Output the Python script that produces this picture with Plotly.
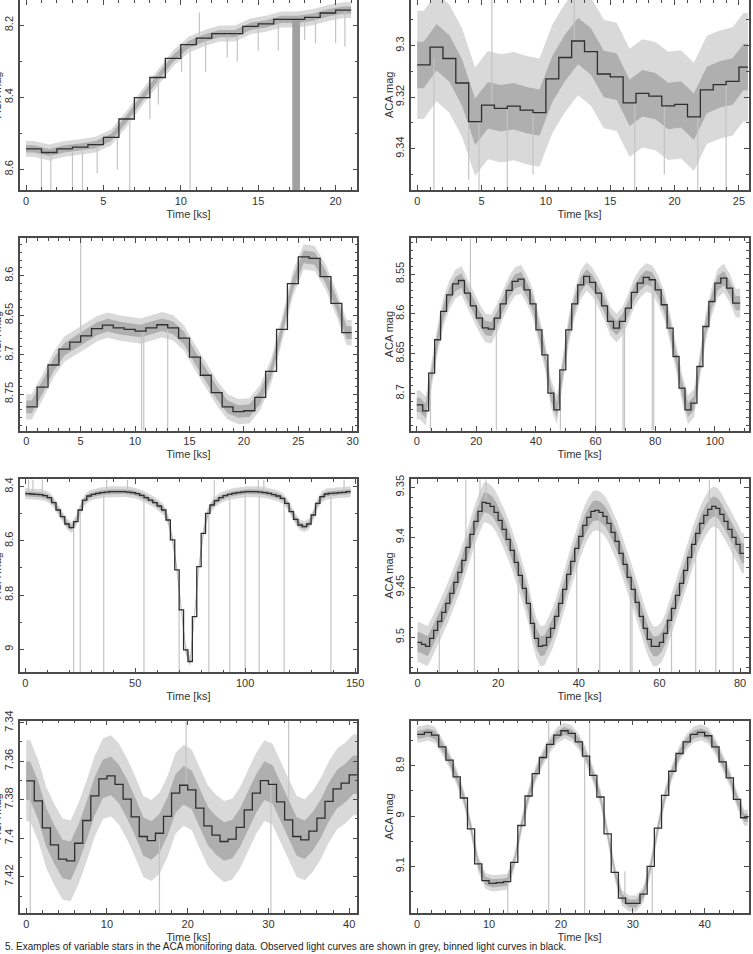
import numpy as np
import plotly.graph_objects as go

# ---------------- data ----------------
# Panel 1 (top left): 1 ks bins
p1_width = 1.0
p1_end = 21.0
p1_mag = [8.543, 8.553, 8.543, 8.538, 8.531, 8.511, 8.460, 8.401, 8.345, 8.292, 8.254,
          8.236, 8.223, 8.223, 8.203, 8.196, 8.184, 8.184, 8.178, 8.166, 8.158]
p1_spike_t = [1.0, 1.6, 3.0, 3.65, 4.6, 5.9, 6.7, 8.0, 8.55, 10.05, 10.6, 11.6, 13.0, 13.65, 15.0, 16.3, 18.0, 18.7, 20.0, 20.6, 11.2]
p1_spike_a = [8.54, 8.55, 8.54, 8.54, 8.53, 8.50, 8.47, 8.38, 8.33, 8.28, 8.25, 8.23, 8.22, 8.22, 8.20, 8.19, 8.18, 8.17, 8.16, 8.16, 8.24]
p1_spike_b = [8.66, 8.66, 8.66, 8.66, 8.61, 8.60, 8.66, 8.46, 8.42, 8.33, 8.66, 8.33, 8.29, 8.30, 8.27, 8.27, 8.24, 8.25, 8.25, 8.26, 8.165]
p1_gap = [17.2, 17.7, 8.187]  # start, end, top of the grey data-gap block

# Panel 2 (top right)
p2_width = 1.0
p2_end = 25.7
p2_mag = [9.3075, 9.3006, 9.3050, 9.3145, 9.3295, 9.3231, 9.3243, 9.3235, 9.3250, 9.3260,
          9.3129, 9.3046, 9.2982, 9.3023, 9.3110, 9.3121, 9.3222, 9.3185, 9.3196, 9.3234,
          9.3228, 9.3276, 9.3172, 9.3151, 9.3139, 9.3083]
p2_spike_t = [1.3, 4.0, 4.8, 7.0, 9.0, 16.9, 19.2, 21.8, 24.0, 5.8, 12.2]
p2_spike_a = [9.305, 9.32, 9.33, 9.325, 9.326, 9.322, 9.323, 9.328, 9.315, 9.323, 9.298]
p2_spike_b = [9.356, 9.352, 9.356, 9.356, 9.350, 9.356, 9.350, 9.356, 9.356, 9.282, 9.282]

# Panel 3 (second row left)
p3_width = 1.0
p3_end = 29.9
p3_mag = [8.766, 8.741, 8.713, 8.693, 8.684, 8.676, 8.667, 8.6625, 8.666, 8.668,
          8.670, 8.666, 8.662, 8.666, 8.679, 8.703, 8.726, 8.748, 8.766, 8.772,
          8.771, 8.754, 8.721, 8.668, 8.610, 8.576, 8.578, 8.601, 8.635, 8.672]
p3_spike_t = [5.0, 10.6, 10.8, 13.0]
p3_spike_a = [8.68, 8.67, 8.67, 8.665]
p3_spike_b = [8.552, 8.796, 8.796, 8.796]

# Panel 4 (second row right): 2 ks bins
p4_width = 2.0
p4_end = 108.5
p4_mag = [8.7143, 8.7218, 8.6744, 8.6325, 8.5969, 8.5760, 8.5622, 8.5580, 8.5739, 8.5898,
          8.6053, 8.6175, 8.6191, 8.6053, 8.5873, 8.5705, 8.5592, 8.5563, 8.5697, 8.5873,
          8.6200, 8.6514, 8.6996, 8.7205, 8.6703, 8.6200, 8.5873, 8.5634, 8.5529, 8.5605,
          8.5739, 8.5898, 8.6095, 8.6179, 8.6095, 8.5927, 8.5730, 8.5613, 8.5542, 8.5571,
          8.5697, 8.5885, 8.6179, 8.6535, 8.6933, 8.7205, 8.7122, 8.6661, 8.6158, 8.5844,
          8.5613, 8.5550, 8.5676, 8.5865]
p4_spike_t = [4.6, 18.0, 26.7, 48.2, 60.0, 69.2, 69.7, 79.0, 79.5]
p4_spike_a = [8.68, 8.59, 8.61, 8.69, 8.57, 8.61, 8.61, 8.556, 8.556]
p4_spike_b = [8.7465, 8.505, 8.7465, 8.7465, 8.7465, 8.7465, 8.7465, 8.7465, 8.7465]

# Panel 5 (third row left): 2 ks bins
p5_width = 2.0
p5_end = 148.0
p5_mag = [8.4258, 8.4270, 8.4283, 8.4295, 8.4332, 8.4406, 8.4590, 8.4860, 8.5106, 8.5376,
          8.5512, 8.5290, 8.4860, 8.4492, 8.4344, 8.4283, 8.4246, 8.4221, 8.4197, 8.4184,
          8.4184, 8.4184, 8.4184, 8.4197, 8.4221, 8.4258, 8.4320, 8.4406, 8.4492, 8.4590,
          8.4713, 8.4860, 8.5229, 8.5966, 8.7073, 8.8547, 9.0022, 9.0452, 8.8793, 8.6950,
          8.5721, 8.4983, 8.4676, 8.4516, 8.4406, 8.4332, 8.4283, 8.4246, 8.4221, 8.4197,
          8.4184, 8.4184, 8.4184, 8.4197, 8.4221, 8.4246, 8.4295, 8.4344, 8.4430, 8.4615,
          8.4922, 8.5204, 8.5413, 8.5475, 8.5376, 8.5045, 8.4615, 8.4369, 8.4270, 8.4246,
          8.4234, 8.4221, 8.4209, 8.4184]
p5_spike_t = [22.0, 25.0, 35.7, 54.0, 70.0, 83.5, 93.0, 100.0, 106.4, 117.7, 139.0,
              1.5, 3.5, 7.8, 37.0, 46.5, 86.0, 106.0, 108.5, 145.0]
p5_spike_a = [8.53, 8.47, 8.42, 8.44, 8.85, 8.48, 8.43, 8.42, 8.42, 8.45, 8.42,
              8.425, 8.427, 8.43, 8.42, 8.418, 8.45, 8.42, 8.42, 8.42]
p5_spike_b = [9.085, 9.085, 9.085, 9.085, 9.085, 9.085, 9.085, 9.085, 9.085, 9.085, 9.085,
              8.373, 8.373, 8.373, 8.373, 8.373, 8.373, 8.373, 8.373, 8.373]

# Panel 6 (third row right): 1 ks bins
p6_width = 1.0
p6_end = 81.0
p6_mag = [9.505, 9.507, 9.509, 9.501, 9.493, 9.484, 9.475, 9.466, 9.456, 9.445,
          9.435, 9.423, 9.410, 9.397, 9.384, 9.374, 9.365, 9.366, 9.369, 9.375,
          9.383, 9.392, 9.402, 9.413, 9.425, 9.438, 9.451, 9.466, 9.486, 9.501,
          9.509, 9.508, 9.500, 9.491, 9.479, 9.466, 9.452, 9.437, 9.424, 9.411,
          9.399, 9.388, 9.380, 9.374, 9.373, 9.375, 9.379, 9.386, 9.395, 9.404,
          9.416, 9.427, 9.440, 9.452, 9.465, 9.479, 9.491, 9.502, 9.509, 9.509,
          9.505, 9.496, 9.483, 9.471, 9.458, 9.446, 9.433, 9.420, 9.407, 9.396,
          9.386, 9.378, 9.372, 9.369, 9.371, 9.377, 9.384, 9.392, 9.400, 9.407, 9.416]
p6_spike_t = [5.4, 14.1, 17.0, 25.0, 39.5, 45.2, 52.8, 53.2, 63.0, 69.0, 72.4, 74.0, 78.3, 12.0, 15.5]
p6_spike_a = [9.49, 9.38, 9.366, 9.43, 9.41, 9.375, 9.445, 9.445, 9.47, 9.40, 9.37, 9.37, 9.40, 9.41, 9.375]
p6_spike_b = [9.535, 9.535, 9.342, 9.535, 9.535, 9.535, 9.535, 9.535, 9.535, 9.535, 9.342, 9.535, 9.535, 9.342, 9.342]

# Panel 7 (bottom left): 1 ks bins
p7_width = 1.0
p7_end = 41.0
p7_mag = [7.3702, 7.3806, 7.3946, 7.4034, 7.4108, 7.4117, 7.4026, 7.3908, 7.3780, 7.3692,
          7.3676, 7.3720, 7.3797, 7.3889, 7.3991, 7.4012, 7.3974, 7.3887, 7.3766, 7.3725,
          7.3749, 7.3844, 7.3936, 7.3984, 7.4017, 7.4005, 7.3944, 7.3853, 7.3766, 7.3701,
          7.3720, 7.3811, 7.3905, 7.3991, 7.4008, 7.3963, 7.3896, 7.3809, 7.3744, 7.3714, 7.3671]
p7_spike_t = [0.5, 16.5, 19.8, 30.3, 32.5]
p7_spike_a = [7.37, 7.40, 7.373, 7.37, 7.38]
p7_spike_b = [7.4388, 7.4388, 7.339, 7.4388, 7.339]

# Panel 8 (bottom right): 1 ks bins
p8_width = 1.0
p8_end = 46.0
p8_mag = [8.8373, 8.8333, 8.8387, 8.8620, 8.8887, 8.9220, 8.9640, 9.0253, 9.0953, 9.1287,
          9.1340, 9.1327, 9.1307, 9.0920, 9.0187, 8.9600, 8.9153, 8.8833, 8.8573, 8.8387,
          8.8300, 8.8353, 8.8520, 8.8807, 8.9187, 8.9620, 9.0353, 9.1120, 9.1633, 9.1740,
          9.1740, 9.1553, 9.1000, 9.0240, 8.9587, 8.9107, 8.8753, 8.8520, 8.8373, 8.8333,
          8.8400, 8.8620, 8.8920, 8.9240, 8.9667, 9.0033]
p8_spike_t = [12.6, 18.3, 23.3, 24.0, 28.9, 32.7]
p8_spike_a = [9.13, 8.81, 8.86, 8.81, 9.11, 9.10]
p8_spike_b = [9.193, 9.193, 9.193, 8.88, 9.16, 9.193]

# scatter half-widths of the grey curves (outer fringe, dense core), in mag
scatter_outer = [0.022, 0.021, 0.016, 0.018, 0.020, 0.020, 0.021, 0.016]
scatter_inner = [0.010, 0.009, 0.008, 0.009, 0.009, 0.010, 0.010, 0.008]

# axis ranges and ticks
x_ranges = [[-0.42, 21.4], [-0.52, 25.74], [-0.62, 30.42], [-2.1, 111.3],
            [-2.6, 151.0], [-1.74, 82.1], [-0.83, 41.0], [-0.93, 46.1]]
y_ranges = [[8.657, 8.13], [9.356, 9.2823], [8.796, 8.5525], [8.7465, 8.505],
            [9.085, 8.3727], [9.535, 9.342], [7.4388, 7.339], [9.193, 8.81]]
x_tickvals = [[0, 5, 10, 15, 20], [0, 5, 10, 15, 20, 25], [0, 5, 10, 15, 20, 25, 30],
              [0, 20, 40, 60, 80, 100], [0, 50, 100, 150], [0, 20, 40, 60, 80],
              [0, 10, 20, 30, 40], [0, 10, 20, 30, 40]]
x_minor = [1, 1, 1, 5, 10, 5, 2, 2]
y_tickvals = [[8.2, 8.4, 8.6], [9.3, 9.32, 9.34], [8.6, 8.65, 8.7, 8.75],
              [8.55, 8.6, 8.65, 8.7], [8.4, 8.6, 8.8, 9.0], [9.35, 9.4, 9.45, 9.5],
              [7.34, 7.36, 7.38, 7.4, 7.42], [8.9, 9.0, 9.1]]
y_ticktext = [["8.2", "8.4", "8.6"], ["9.3", "9.32", "9.34"], ["8.6", "8.65", "8.7", "8.75"],
              ["8.55", "8.6", "8.65", "8.7"], ["8.4", "8.6", "8.8", "9"], ["9.35", "9.4", "9.45", "9.5"],
              ["7.34", "7.36", "7.38", "7.4", "7.42"], ["8.9", "9", "9.1"]]
y_minor = [0.1, 0.01, 0.01, 0.01, 0.1, 0.01, 0.01, 0.05]

x_title = "Time [ks]"
y_title = "ACA mag"
caption = ("5. Examples of variable stars in the ACA monitoring data. Observed light curves are shown in grey, "
           "binned light curves in black.")

panels = [
    (p1_width, p1_end, p1_mag, p1_spike_t, p1_spike_a, p1_spike_b),
    (p2_width, p2_end, p2_mag, p2_spike_t, p2_spike_a, p2_spike_b),
    (p3_width, p3_end, p3_mag, p3_spike_t, p3_spike_a, p3_spike_b),
    (p4_width, p4_end, p4_mag, p4_spike_t, p4_spike_a, p4_spike_b),
    (p5_width, p5_end, p5_mag, p5_spike_t, p5_spike_a, p5_spike_b),
    (p6_width, p6_end, p6_mag, p6_spike_t, p6_spike_a, p6_spike_b),
    (p7_width, p7_end, p7_mag, p7_spike_t, p7_spike_a, p7_spike_b),
    (p8_width, p8_end, p8_mag, p8_spike_t, p8_spike_a, p8_spike_b),
]

# ---------------- layout geometry (pixels) ----------------
W, H = 753, 954
col_px = [(19.5, 357.3), (410.5, 748.5)]
row_px = [(0.0, 190.0), (238.3, 430.5), (479.3, 672.3), (720.7, 913.0)]
ytitle_x_px = [-3.0, 389.0]

FONT = "Liberation Sans, Arial, Helvetica, sans-serif"
FRAME = "#4a4a4a"
TXT = "#333333"

fig = go.Figure()
layout = dict(width=W, height=H, margin=dict(l=0, r=0, t=0, b=0),
              paper_bgcolor="white", plot_bgcolor="white", showlegend=False,
              font=dict(family=FONT, size=11, color=TXT))
annotations = []

for i, (w, end, mag, st, sa, sb) in enumerate(panels):
    row, col = divmod(i, 2)
    xa = "x" if i == 0 else f"x{i+1}"
    ya = "y" if i == 0 else f"y{i+1}"
    starts = np.arange(len(mag)) * w
    mag = np.array(mag)
    # band through bin centres (continuous grey light curve)
    centers = np.minimum(starts + w / 2, (starts + np.append(starts[1:], end)) / 2)
    bx = np.concatenate([[0.0], centers, [end]])
    by = np.concatenate([[mag[0]], mag, [mag[-1]]])
    for s, colr in ((scatter_outer[i], "#d9d9d9"), (scatter_inner[i], "#afafaf")):
        fig.add_trace(go.Scatter(
            x=np.concatenate([bx, bx[::-1]]),
            y=np.concatenate([by - s, (by + s)[::-1]]),
            fill="toself", fillcolor=colr, line=dict(width=0), mode="lines",
            hoverinfo="skip", xaxis=xa, yaxis=ya))
    # spikes
    sx, sy = [], []
    for t, a, b in zip(st, sa, sb):
        sx += [t, t, None]
        sy += [a, b, None]
    fig.add_trace(go.Scatter(x=sx, y=sy, mode="lines",
                             line=dict(color="#c4c4c4", width=1.2),
                             hoverinfo="skip", xaxis=xa, yaxis=ya))
    if i == 0:
        g0, g1, gt = p1_gap
        yb = y_ranges[0][0]
        fig.add_trace(go.Scatter(x=[g0, g1, g1, g0, g0], y=[gt, gt, yb, yb, gt],
                                 fill="toself", fillcolor="#a0a0a0",
                                 line=dict(width=0), mode="lines",
                                 hoverinfo="skip", xaxis=xa, yaxis=ya))
    # binned step curve
    fig.add_trace(go.Scatter(x=np.append(starts, end), y=np.append(mag, mag[-1]),
                             mode="lines", line=dict(color="#2e2e2e", width=1.3, shape="hv"),
                             hoverinfo="skip", xaxis=xa, yaxis=ya))

    x0, x1 = col_px[col]
    y0, y1 = row_px[row]
    xkey = "xaxis" if i == 0 else f"xaxis{i+1}"
    ykey = "yaxis" if i == 0 else f"yaxis{i+1}"
    layout[xkey] = dict(
        domain=[x0 / W, x1 / W], anchor=ya, range=x_ranges[i],
        tickmode="array", tickvals=x_tickvals[i], ticks="inside", ticklen=5,
        tickwidth=1, tickcolor=FRAME, showline=True, linecolor=FRAME, linewidth=1.5,
        mirror="allticks", showgrid=False, zeroline=False,
        minor=dict(dtick=x_minor[i], ticks="inside", ticklen=3, tickcolor=FRAME, showgrid=False),
        tickfont=dict(size=11, color=TXT, family=FONT),
        title=dict(text=x_title, standoff=4, font=dict(size=11, color=TXT, family=FONT)),
        automargin=False)
    layout[ykey] = dict(
        domain=[1 - y1 / H, 1 - y0 / H], anchor=xa, range=y_ranges[i],
        tickmode="array", tickvals=y_tickvals[i], ticktext=y_ticktext[i], tickangle=-90,
        ticks="inside", ticklen=5, tickwidth=1, tickcolor=FRAME,
        showline=True, linecolor=FRAME, linewidth=1.5, mirror="allticks",
        showgrid=False, zeroline=False,
        minor=dict(dtick=y_minor[i], tick0=0, ticks="inside", ticklen=3, tickcolor=FRAME, showgrid=False),
        tickfont=dict(size=11, color=TXT, family=FONT),
        automargin=False)
    annotations.append(dict(text=y_title, textangle=-90, x=ytitle_x_px[col] / W,
                            y=1 - (y0 + y1) / 2 / H, xref="paper", yref="paper",
                            xanchor="center", yanchor="middle", showarrow=False,
                            font=dict(size=11, color=TXT, family=FONT)))

annotations.append(dict(text=caption, x=0.004, y=0.0, xref="paper", yref="paper",
                        xanchor="left", yanchor="bottom", showarrow=False,
                        font=dict(size=10, color="#222222", family=FONT)))
layout["annotations"] = annotations
fig.update_layout(**layout)
fig.write_html("out.html")
